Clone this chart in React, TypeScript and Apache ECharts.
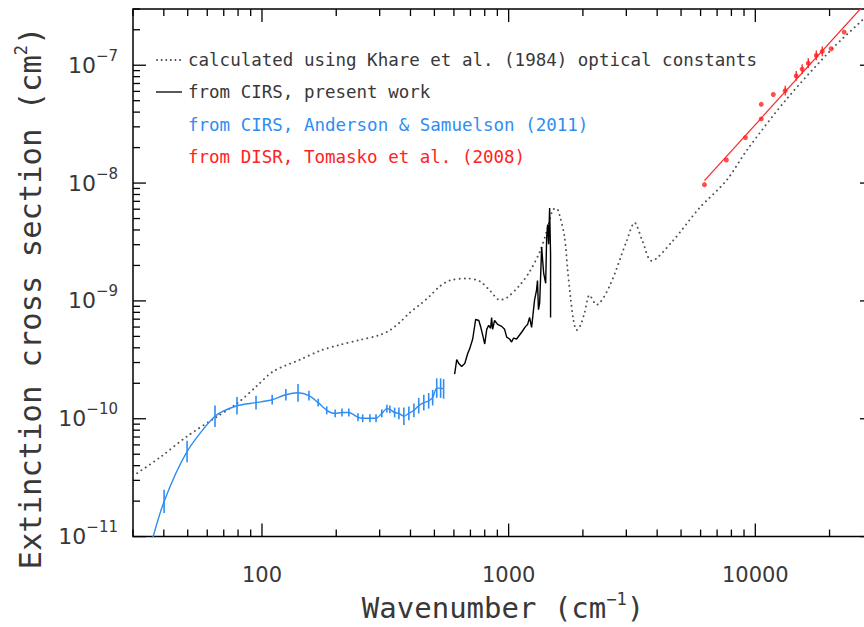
import React, { useEffect, useRef } from "react";
import * as echarts from "echarts";

const X_MIN = 30;
const X_MAX = 30000;
const Y_MIN = 1e-11;
const Y_MAX = 3e-7;

// Calculated using Khare et al. (1984) optical constants (dotted)
const khareX = [30, 38.6, 49.7, 64.6, 79.3, 95.4, 111, 143, 172, 207, 249, 300, 330, 362, 397, 436, 479, 526, 577, 676, 763, 838, 920, 982, 1109, 1216, 1336, 1426, 1508, 1564, 1608, 1686, 1733, 1783, 1833, 1885, 1955, 2031, 2128, 2270, 2563, 3006, 3238, 3490, 3796, 4615, 5934, 7630, 9290, 13360, 20500, 27350, 30000];
const khareY = [3.27e-11, 4.7e-11, 7.1e-11, 1.02e-10, 1.35e-10, 1.9e-10, 2.52e-10, 3.18e-10, 3.78e-10, 4.24e-10, 4.66e-10, 5.13e-10, 5.64e-10, 6.57e-10, 7.94e-10, 9.27e-10, 1.1e-9, 1.33e-9, 1.49e-9, 1.55e-9, 1.47e-9, 1.23e-9, 1.02e-9, 1.06e-9, 1.36e-9, 1.77e-9, 2.6e-9, 3.88e-9, 5.91e-9, 6.1e-9, 5.37e-9, 3.46e-9, 1.88e-9, 1.06e-9, 6.82e-10, 5.64e-10, 6.21e-10, 7.94e-10, 1.12e-9, 9.27e-10, 1.33e-9, 3.21e-9, 4.61e-9, 3.21e-9, 2.19e-9, 3.21e-9, 6.14e-9, 1.05e-8, 1.93e-8, 5.13e-8, 1.38e-7, 2.45e-7, 2.97e-7];

// From CIRS, present work (black)
const cirsX = [604, 616, 628, 645, 664, 682, 695, 715, 735, 757, 771, 785, 800, 815, 830, 845, 853, 861, 877, 902, 937, 963, 982, 1009, 1028, 1047, 1077, 1129, 1172, 1194, 1216, 1239, 1274, 1297, 1309, 1321, 1336, 1361, 1374, 1387, 1413, 1426, 1439, 1452, 1466, 1479, 1479];
const cirsY = [2.39e-10, 3.18e-10, 2.94e-10, 2.78e-10, 2.94e-10, 3.56e-10, 3.92e-10, 4.75e-10, 6.96e-10, 6.82e-10, 5.97e-10, 5.12e-10, 4.31e-10, 5.74e-10, 6.21e-10, 5.86e-10, 7.23e-10, 5.74e-10, 6.82e-10, 6.32e-10, 6.08e-10, 5.74e-10, 4.93e-10, 4.75e-10, 4.48e-10, 4.84e-10, 4.75e-10, 5.42e-10, 6.08e-10, 6.32e-10, 7.23e-10, 5.97e-10, 1.02e-9, 1.23e-9, 1.49e-9, 8.42e-10, 9.62e-10, 2.86e-9, 2.19e-9, 1.71e-9, 1.41e-9, 3.46e-9, 4.44e-9, 3.03e-9, 6.14e-9, 2.5e-9, 7.23e-10];

// From CIRS, Anderson & Samuelson (2011) (blue) with multiplicative error factor
const blueX = [35.2, 40.1, 49.7, 64.5, 79.2, 94.6, 110, 125, 140, 155, 169, 183, 198, 211, 225, 245, 256, 274, 290, 306, 321, 330, 345, 359, 376, 394, 413, 432, 453, 474, 492, 511, 530, 545];
const blueY = [8.1e-12, 1.99e-11, 5.27e-11, 1.05e-10, 1.29e-10, 1.37e-10, 1.45e-10, 1.6e-10, 1.66e-10, 1.57e-10, 1.37e-10, 1.18e-10, 1.11e-10, 1.13e-10, 1.13e-10, 1.03e-10, 1.01e-10, 1.01e-10, 1.01e-10, 1.11e-10, 1.22e-10, 1.2e-10, 1.13e-10, 1.11e-10, 1.05e-10, 1.11e-10, 1.18e-10, 1.29e-10, 1.37e-10, 1.42e-10, 1.51e-10, 1.82e-10, 1.82e-10, 1.79e-10];
const blueErr = [1, 1.257, 1.234, 1.234, 1.188, 1.143, 1.1, 1.12, 1.188, 1.1, 1.08, 1.08, 1.08, 1.08, 1.08, 1.08, 1.08, 1.08, 1.08, 1.08, 1.08, 1.08, 1.1, 1.12, 1.188, 1.143, 1.143, 1.165, 1.165, 1.165, 1.165, 1.21, 1.21, 1.21];

// From DISR, Tomasko et al. (2008) (red)
const redX = [6220, 7630, 9120, 10570, 10570, 11830, 13220, 14650, 15490, 16400, 17670, 18680, 20300, 22920];
const redY = [9.7e-9, 1.57e-8, 2.43e-8, 3.5e-8, 4.66e-8, 5.64e-8, 6.08e-8, 8.11e-8, 9.27e-8, 1.04e-7, 1.21e-7, 1.31e-7, 1.38e-7, 1.91e-7];
const redErr = [1, 1, 1, 1, 1, 1, 1.1, 1.1, 1.1, 1.1, 1.1, 1.1, 1, 1];
const redFitX = [6220, 30000];
const redFitY = [1.05e-8, 3.94e-7];

const xTickLabels = [100, 1000, 10000];
const xDecades = [10, 100, 1000, 10000];
const yDecades = [1e-12, 1e-11, 1e-10, 1e-9, 1e-8, 1e-7];
const tickMultipliers = [1, 2, 3, 4, 5, 6, 7, 8, 9];

const legendLabels = [
  "calculated using Khare et al. (1984) optical constants",
  "from CIRS, present work",
  "from CIRS, Anderson & Samuelson (2011)",
  "from DISR, Tomasko et al. (2008)",
];

const BLUE = "#2f8df2";
const RED = "#ff2222";
const TEXT = "#383838";
const FONT = "DejaVu Sans";
const MONO = "DejaVu Sans Mono";

const CHART_W = 884;
const CHART_H = 627;

export default function App() {
  const ref = useRef<HTMLDivElement>(null);

  useEffect(() => {
    if (!ref.current) return;
    const chart = echarts.init(ref.current, undefined, { renderer: "svg" });

    const xTicks: number[][] = [];
    xDecades.forEach((d) =>
      tickMultipliers.forEach((m) => {
        const v = d * m;
        if (v >= X_MIN - 1e-9 && v <= X_MAX + 1e-9) xTicks.push([v, Y_MIN, m === 1 ? 1 : 0]);
      })
    );
    const yTicks: number[][] = [];
    yDecades.forEach((d) =>
      tickMultipliers.forEach((m) => {
        const v = d * m;
        if (v >= Y_MIN * 0.999 && v <= Y_MAX * 1.001) yTicks.push([X_MIN, v, m === 1 ? 1 : 0]);
      })
    );

    const tickStyle = { stroke: "#000", lineWidth: 1.3 };

    const errSeries = (xs: number[], ys: number[], fs: number[], color: string, w: number) => ({
      type: "custom",
      silent: true,
      clip: true,
      encode: { x: 0, y: 1 },
      data: xs.map((x, i) => [x, ys[i], fs[i]]).filter((d) => d[2] > 1),
      renderItem: (_p: any, api: any) => {
        const x = api.value(0);
        const y = api.value(1);
        const f = api.value(2);
        const a = api.coord([x, y * f]);
        const b = api.coord([x, y / f]);
        return {
          type: "line",
          shape: { x1: a[0], y1: a[1], x2: b[0], y2: b[1] },
          style: { stroke: color, lineWidth: w },
        };
      },
      z: 4,
    });

    const sup = { fontSize: 15, verticalAlign: "top", lineHeight: 18, color: TEXT, fontFamily: FONT };
    const legendText = (i: number, y: number, fill: string) => ({
      type: "text",
      x: 188,
      y,
      style: { text: legendLabels[i], fill, fontSize: 17.5, fontFamily: MONO, verticalAlign: "middle" },
    });

    const option: any = {
      animation: false,
      textStyle: { fontFamily: FONT },
      grid: {
        left: 133,
        right: CHART_W - 873,
        top: 9,
        bottom: 78,
        show: true,
        borderColor: "#000",
        borderWidth: 1.5,
        backgroundColor: "transparent",
      },
      xAxis: {
        type: "log",
        logBase: 10,
        min: X_MIN,
        max: X_MAX,
        axisLine: { show: false },
        axisTick: { show: false },
        splitLine: { show: false },
        axisLabel: {
          margin: 28,
          fontSize: 21,
          color: TEXT,
          fontFamily: FONT,
          showMinLabel: true,
          showMaxLabel: true,
          formatter: (v: number) => {
            const hit = xTickLabels.find((t) => Math.abs(t - v) / t < 1e-6);
            return hit ? String(hit) : "";
          },
        },
        name: "{n|Wavenumber (cm}{s|−1}{n|)}",
        nameLocation: "middle",
        nameGap: 40,
        nameTextStyle: {
          rich: {
            n: { fontSize: 29, lineHeight: 34, color: TEXT, fontFamily: MONO },
            s: { ...sup, fontSize: 17, fontFamily: MONO },
          },
        },
      },
      yAxis: {
        type: "log",
        logBase: 10,
        min: Y_MIN,
        max: Y_MAX,
        axisLine: { show: false },
        axisTick: { show: false },
        splitLine: { show: false },
        axisLabel: {
          margin: 15,
          color: TEXT,
          formatter: (v: number) => {
            const e = Math.log10(v);
            const r = Math.round(e);
            if (Math.abs(e - r) > 1e-6) return "";
            return `{b|10}{s|${r < 0 ? "−" : ""}${Math.abs(r)}}`;
          },
          rich: {
            b: { fontSize: 22, lineHeight: 34, color: TEXT, fontFamily: FONT },
            s: sup,
          },
        },
      },
      graphic: [
        {
          type: "group",
          silent: true,
          children: [
            {
              type: "line",
              shape: { x1: 157, y1: 60, x2: 182, y2: 60 },
              style: { stroke: "#444", lineWidth: 1.8, lineDash: [0.1, 4.5], lineCap: "round" },
            },
            legendText(0, 60, TEXT),
            {
              type: "line",
              shape: { x1: 156, y1: 92, x2: 182, y2: 92 },
              style: { stroke: "#000", lineWidth: 1.3 },
            },
            legendText(1, 92, TEXT),
            legendText(2, 125, BLUE),
            legendText(3, 157, RED),
            {
              type: "text",
              x: 30,
              y: 298,
              rotation: Math.PI / 2,
              style: {
                text: "{n|Extinction cross section (cm}{s|2}{n|)}",
                align: "center",
                verticalAlign: "middle",
                rich: {
                  n: { fontSize: 30.5, lineHeight: 36, fill: TEXT, fontFamily: MONO },
                  s: { fontSize: 17, verticalAlign: "top", lineHeight: 18, fill: TEXT, fontFamily: MONO },
                },
              },
            },
          ],
        },
      ],
      series: [
        {
          name: "khare",
          type: "line",
          data: khareX.map((x, i) => [x, khareY[i]]),
          showSymbol: false,
          smooth: 0.3,
          lineStyle: { color: "#505050", width: 1.9, type: [0.1, 5], cap: "round" },
          z: 2,
        },
        {
          name: "cirs",
          type: "line",
          data: cirsX.map((x, i) => [x, cirsY[i]]),
          showSymbol: false,
          lineStyle: { color: "#000", width: 1.4 },
          z: 3,
        },
        {
          name: "anderson",
          type: "line",
          data: blueX.map((x, i) => [x, blueY[i]]),
          showSymbol: false,
          smooth: 0.25,
          lineStyle: { color: BLUE, width: 1.4 },
          z: 3,
        },
        errSeries(blueX, blueY, blueErr, BLUE, 1.6),
        {
          name: "fit",
          type: "line",
          data: redFitX.map((x, i) => [x, redFitY[i]]),
          showSymbol: false,
          lineStyle: { color: RED, width: 1.2 },
          z: 3,
        },
        {
          name: "tomasko",
          type: "scatter",
          data: redX.map((x, i) => [x, redY[i]]),
          symbol: "circle",
          symbolSize: 5,
          itemStyle: { color: RED },
          z: 4,
        },
        errSeries(redX, redY, redErr, RED, 1.3),
        {
          type: "custom",
          silent: true,
          clip: false,
          encode: { x: 0, y: 1 },
          data: xTicks,
          renderItem: (_p: any, api: any) => {
            const v = api.value(0);
            const major = api.value(2);
            const b = api.coord([v, Y_MIN]);
            const t = api.coord([v, Y_MAX]);
            const len = major ? 13 : 7;
            return {
              type: "group",
              children: [
                { type: "line", shape: { x1: b[0], y1: b[1], x2: b[0], y2: b[1] - len }, style: tickStyle },
                { type: "line", shape: { x1: t[0], y1: t[1], x2: t[0], y2: t[1] + len }, style: tickStyle },
              ],
            };
          },
          z: 5,
        },
        {
          type: "custom",
          silent: true,
          clip: false,
          encode: { x: 0, y: 1 },
          data: yTicks,
          renderItem: (_p: any, api: any) => {
            const v = api.value(1);
            const major = api.value(2);
            const l = api.coord([X_MIN, v]);
            const r = api.coord([X_MAX, v]);
            const len = major ? 13 : 7;
            return {
              type: "group",
              children: [
                { type: "line", shape: { x1: l[0], y1: l[1], x2: l[0] + len, y2: l[1] }, style: tickStyle },
                { type: "line", shape: { x1: r[0], y1: r[1], x2: r[0] - len, y2: r[1] }, style: tickStyle },
              ],
            };
          },
          z: 5,
        },
      ],
    };

    chart.setOption(option);
    return () => chart.dispose();
  }, []);

  return (
    <div
      style={{ position: "fixed", left: 0, top: 0, width: 864, height: 627, overflow: "hidden", background: "#fff" }}
    >
      <div ref={ref} style={{ width: CHART_W, height: CHART_H }} />
    </div>
  );
}
